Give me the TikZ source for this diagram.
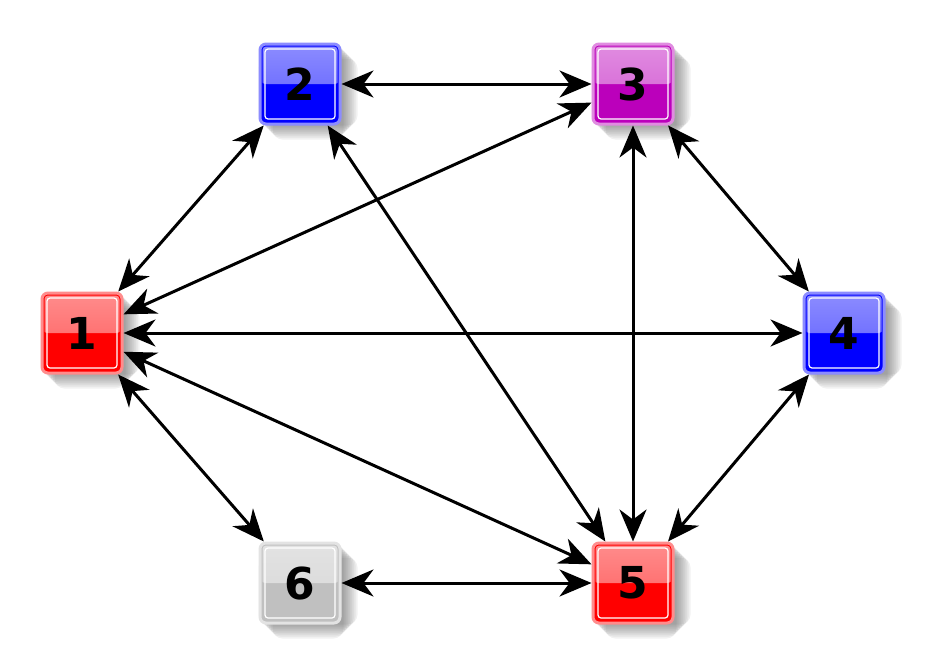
\documentclass[tikz,border=0pt]{standalone}
\usepackage{fontspec}
\setmainfont{DejaVu Sans}
\usetikzlibrary{arrows.meta,backgrounds}
\definecolor{cred}{RGB}{255,0,0}
\definecolor{cblue}{RGB}{0,0,255}
\definecolor{cmag}{RGB}{187,0,187}
\definecolor{cgray}{RGB}{192,192,192}
\tikzset{
  box/.style={draw=#1!45, line width=3pt, fill=#1, rounded corners=6pt,
    minimum size=80pt, inner sep=0pt, text=black,
    font=\bfseries\fontsize{44}{44}\selectfont,
    path picture={
      \fill[top color=white!55!#1, bottom color=white!35!#1]
        (path picture bounding box.north west) rectangle (path picture bounding box.east);
      \draw[#1, line width=5pt, rounded corners=6pt]
        (path picture bounding box.south west) rectangle (path picture bounding box.north east);
      \draw[white, line width=1.2pt, rounded corners=3pt]
        ([shift={(5pt,5pt)}]path picture bounding box.south west) rectangle
        ([shift={(-5pt,-5pt)}]path picture bounding box.north east);
    }},
  dbl/.style={line width=3pt, black,
    {Stealth[length=32pt,width=27pt,inset=10pt]}-{Stealth[length=32pt,width=27pt,inset=10pt]}}
}
\begin{document}
\begin{tikzpicture}[x=1pt,y=-1pt]
\useasboundingbox (0,0) rectangle (928,667);
\node[box=cred]  (n1) at (82,333)  {1};
\node[box=cblue] (n2) at (300,84)  {2};
\node[box=cmag]  (n3) at (633,84)  {3};
\node[box=cblue] (n4) at (844,333) {4};
\node[box=cred]  (n5) at (633,583) {5};
\node[box=cgray] (n6) at (300,583) {6};
\begin{scope}[on background layer]
  \foreach \n in {n1,n2,n3,n4,n5,n6}{
    \foreach \s in {-6,-4,...,8}{
      \fill[black, opacity=0.055, rounded corners=10pt]
        ([shift={(8pt-\s pt,-8pt+\s pt)}]\n.south west) rectangle
        ([shift={(8pt+\s pt,-8pt-\s pt)}]\n.north east);
    }
  }
\end{scope}
\draw[dbl] (n1) -- (n2);
\draw[dbl] (n1) -- (n3);
\draw[dbl] (n1) -- (n4);
\draw[dbl] (n1) -- (n5);
\draw[dbl] (n1) -- (n6);
\draw[dbl] (n2) -- (n3);
\draw[dbl] (n2) -- (n5);
\draw[dbl] (n3) -- (n4);
\draw[dbl] (n3) -- (n5);
\draw[dbl] (n4) -- (n5);
\draw[dbl] (n6) -- (n5);
\end{tikzpicture}
\end{document}
